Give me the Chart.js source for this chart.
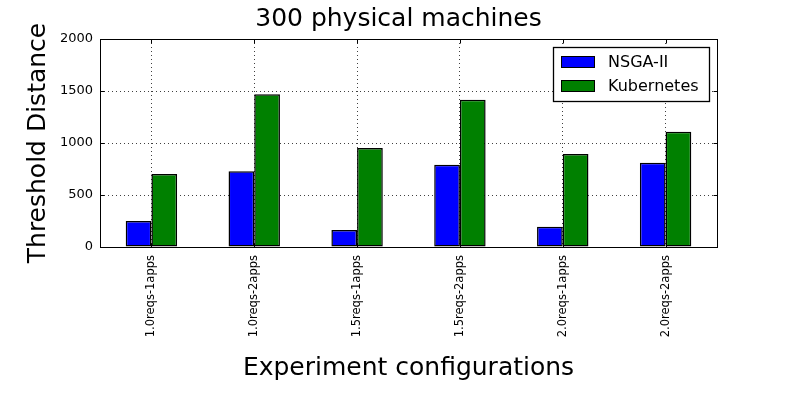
<!DOCTYPE html>
<html><head><meta charset="utf-8">
<script src="https://cdn.jsdelivr.net/npm/chart.js@4/dist/chart.umd.min.js"></script>
<style>html,body{margin:0;padding:0;background:#fff}#wrap{width:797px;height:399px}</style>
</head><body><div id="wrap"><canvas id="c" width="797" height="399"></canvas></div>
<script>
const categories = ['1.0reqs-1apps','1.0reqs-2apps','1.5reqs-1apps','1.5reqs-2apps','2.0reqs-1apps','2.0reqs-2apps'];
const nsgaValues = [250, 728, 163, 791, 195, 811];
const kubernetesValues = [702, 1468, 952, 1416, 894, 1109];
const yTicks = [0, 500, 1000, 1500, 2000];
const FONT = 'DejaVu Sans';

const frameAndLegend = {
  id: 'frameAndLegend',
  afterDraw(chart) {
    const {ctx, chartArea: a} = chart;
    const L = Math.round(a.left) + 0.5, R = Math.round(a.right) + 0.5;
    const T = Math.round(a.top) + 0.5, B = Math.round(a.bottom) + 0.5;
    ctx.save();
    ctx.strokeStyle = '#000'; ctx.lineWidth = 1; ctx.setLineDash([]);
    ctx.strokeRect(L, T, R - L, B - T);
    // inside tick marks
    ctx.beginPath();
    const ys = chart.scales.y, xs = chart.scales.x;
    yTicks.forEach(v => {
      const y = Math.round(ys.getPixelForValue(v)) + 0.5;
      ctx.moveTo(L, y); ctx.lineTo(L + 4, y);
      ctx.moveTo(R, y); ctx.lineTo(R - 4, y);
    });
    categories.forEach((c, i) => {
      const x = Math.round(xs.getPixelForValue(i)) + 0.5;
      ctx.moveTo(x, B); ctx.lineTo(x, B - 4);
      ctx.moveTo(x, T); ctx.lineTo(x, T + 4);
    });
    ctx.stroke();
    // legend
    const lx = 553.5, ly = 47.5, lw = 156, lh = 54;
    ctx.fillStyle = '#fff'; ctx.fillRect(lx, ly, lw, lh);
    ctx.lineWidth = 1.3;
    ctx.strokeRect(lx, ly, lw, lh);
    ctx.lineWidth = 1;
    ctx.font = '16px "' + FONT + '"';
    ctx.textBaseline = 'middle'; ctx.textAlign = 'left';
    chart.data.datasets.forEach((ds, i) => {
      const py = 56.5 + i * 24;
      ctx.fillStyle = ds.backgroundColor; ctx.fillRect(561.5, py, 33, 11);
      ctx.strokeStyle = '#000'; ctx.strokeRect(561.5, py, 33, 11);
      ctx.fillStyle = '#000'; ctx.fillText(ds.label, 608, py + 6);
    });
    ctx.restore();
  }
};

new Chart(document.getElementById('c'), {
  type: 'bar',
  data: {
    labels: categories,
    datasets: [
      {label: 'NSGA-II', data: nsgaValues, backgroundColor: '#0000ff', borderColor: '#000', borderWidth: 1.5, borderSkipped: false, inflateAmount: 0},
      {label: 'Kubernetes', data: kubernetesValues, backgroundColor: '#008000', borderColor: '#000', borderWidth: 1.5, borderSkipped: false, inflateAmount: 0}
    ]
  },
  options: {
    responsive: false, animation: false,
    layout: {padding: {left: 0, right: 0, top: 0, bottom: 0}},
    datasets: {bar: {categoryPercentage: 0.5, barPercentage: 1.0}},
    plugins: {
      legend: {display: false},
      tooltip: {enabled: false},
      title: {display: true, text: '300 physical machines', color: '#000',
        font: {family: FONT, size: 25, weight: 'normal'}, padding: {top: 4, bottom: 5}}
    },
    scales: {
      x: {
        offset: true,
        grid: {offset: false, color: 'rgba(0,0,0,0.75)', lineWidth: 1, borderDash: [1, 3], drawTicks: false},
        border: {display: false, dash: [1, 3]},
        ticks: {color: '#000', font: {family: FONT, size: 11.5}, maxRotation: 90, minRotation: 90, padding: 8, autoSkip: false},
        title: {display: true, text: 'Experiment configurations', color: '#000', font: {family: FONT, size: 25}, padding: {top: 0, bottom: 16}},
        afterFit(s) { s.height = 152; }
      },
      y: {
        min: 0, max: 2000,
        afterBuildTicks(s) { s.ticks = yTicks.map(v => ({value: v})); },
        grid: {color: 'rgba(0,0,0,0.75)', lineWidth: 1, drawTicks: false},
        border: {display: false, dash: [1, 3]},
        ticks: {color: '#000', font: {family: FONT, size: 13}, padding: 7, callback: v => String(v)},
        title: {display: true, text: 'Threshold Distance', color: '#000', font: {family: FONT, size: 25}, padding: {top: 23, bottom: 0}},
        afterFit(s) { s.width = 100; }
      },
      yRight: {
        position: 'right', display: true, min: 0, max: 1,
        grid: {display: false, drawTicks: false}, border: {display: false},
        ticks: {display: false},
        afterFit(s) { s.width = 80; }
      }
    }
  },
  plugins: [frameAndLegend]
});
</script></body></html>
